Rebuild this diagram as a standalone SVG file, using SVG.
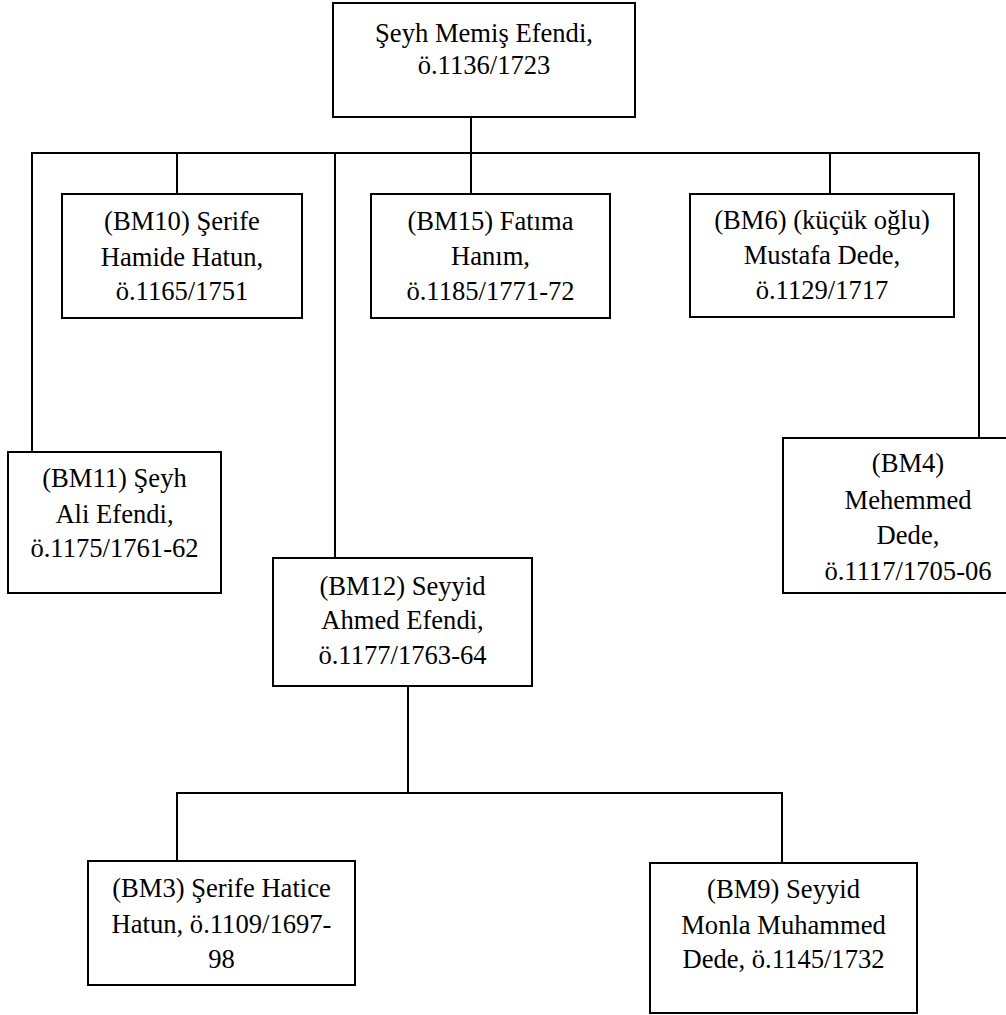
<svg xmlns="http://www.w3.org/2000/svg" width="1006" height="1015" viewBox="0 0 1006 1015">
<rect width="1006" height="1015" fill="#fff"/>
<g id="connectors" stroke="#000" stroke-width="2" fill="none">
<path d="M471,117V194"/>
<path d="M32,452V153H979V438"/>
<path d="M177,153V194"/>
<path d="M335,153V558"/>
<path d="M830,153V194"/>
<path d="M408,686V793"/>
<path d="M177,861V793H782V863"/>
</g>
<g id="nodes" font-size="26.6" text-anchor="middle">
<g id="n-memis"><rect x="333" y="3" width="302" height="114" fill="#fff" stroke="#000" stroke-width="2"/>
<text font-family="Liberation Serif" x="484" y="42">Şeyh Memiş Efendi,</text><text font-family="Liberation Serif" x="484" y="74">ö.1136/1723</text></g>
<g id="n-bm10"><rect x="62" y="194" width="240" height="124" fill="#fff" stroke="#000" stroke-width="2"/>
<text font-family="Liberation Serif" x="182" y="230">(BM10) Şerife</text><text font-family="Liberation Serif" x="182" y="266">Hamide Hatun,</text><text font-family="Liberation Serif" x="182" y="300">ö.1165/1751</text></g>
<g id="n-bm15"><rect x="371" y="194" width="239" height="124" fill="#fff" stroke="#000" stroke-width="2"/>
<text font-family="Liberation Serif" x="490.5" y="230">(BM15) Fatıma</text><text font-family="Liberation Serif" x="490.5" y="265">Hanım,</text><text font-family="Liberation Serif" x="490.5" y="300">ö.1185/1771-72</text></g>
<g id="n-bm6"><rect x="690" y="194" width="264" height="123" fill="#fff" stroke="#000" stroke-width="2"/>
<text font-family="Liberation Serif" x="822" y="229">(BM6) (küçük oğlu)</text><text font-family="Liberation Serif" x="822" y="264">Mustafa Dede,</text><text font-family="Liberation Serif" x="822" y="299">ö.1129/1717</text></g>
<g id="n-bm11"><rect x="8" y="452" width="213" height="141" fill="#fff" stroke="#000" stroke-width="2"/>
<text font-family="Liberation Serif" x="114.5" y="487">(BM11) Şeyh</text><text font-family="Liberation Serif" x="114.5" y="523">Ali Efendi,</text><text font-family="Liberation Serif" x="114.5" y="557">ö.1175/1761-62</text></g>
<g id="n-bm4"><rect x="783" y="438" width="250" height="155" fill="#fff" stroke="#000" stroke-width="2"/>
<text font-family="Liberation Serif" x="908" y="472">(BM4)</text><text font-family="Liberation Serif" x="908" y="509">Mehemmed</text><text font-family="Liberation Serif" x="908" y="544">Dede,</text><text font-family="Liberation Serif" x="908" y="580">ö.1117/1705-06</text></g>
<g id="n-bm12"><rect x="273" y="558" width="259" height="128" fill="#fff" stroke="#000" stroke-width="2"/>
<text font-family="Liberation Serif" x="402.5" y="595">(BM12) Seyyid</text><text font-family="Liberation Serif" x="402.5" y="629">Ahmed Efendi,</text><text font-family="Liberation Serif" x="402.5" y="664">ö.1177/1763-64</text></g>
<g id="n-bm3"><rect x="88" y="861" width="267" height="124" fill="#fff" stroke="#000" stroke-width="2"/>
<text font-family="Liberation Serif" x="221.5" y="897">(BM3) Şerife Hatice</text><text font-family="Liberation Serif" x="221.5" y="933">Hatun, ö.1109/1697-</text><text font-family="Liberation Serif" x="221.5" y="968">98</text></g>
<g id="n-bm9"><rect x="650" y="863" width="267" height="150" fill="#fff" stroke="#000" stroke-width="2"/>
<text font-family="Liberation Serif" x="783.5" y="898">(BM9) Seyyid</text><text font-family="Liberation Serif" x="783.5" y="934">Monla Muhammed</text><text font-family="Liberation Serif" x="783.5" y="968">Dede, ö.1145/1732</text></g>
</g>
</svg>
